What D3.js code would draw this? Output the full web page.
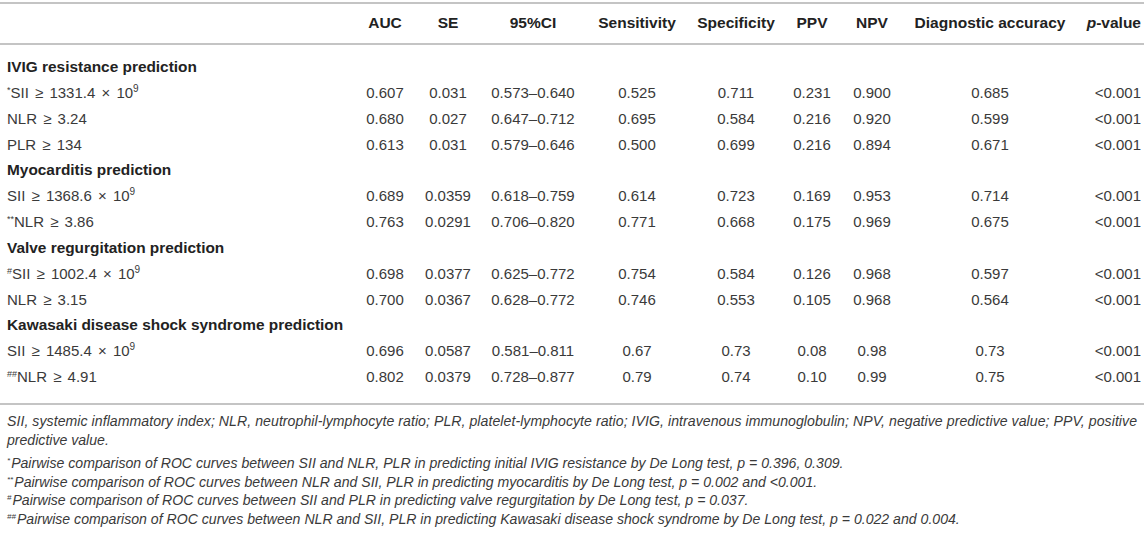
<!DOCTYPE html>
<html lang="en">
<head>
<meta charset="utf-8">
<title>ROC table</title>
<script src="https://d3js.org/d3.v7.min.js"></script>
<style>
  body { margin: 0; background: #fff; }
  svg text { font-family: "Liberation Sans", Arial, sans-serif; font-size: 15px; fill: #3a3a3a; }
  svg text.head { font-weight: bold; font-size: 15.5px; fill: #222; }
  svg text.group { font-weight: bold; font-size: 15.4px; fill: #222; }
  svg text.label { word-spacing: 2px; }
  svg text.note { font-size: 14.1px; font-style: italic; fill: #3a3a3a; }
  svg line.rule { stroke: #c4c4c4; stroke-width: 2; }
</style>
</head>
<body>
<script>
// column headers
var colKeys  = ["auc", "se", "ci", "sens", "spec", "ppv", "npv", "acc", "p"];
var colNames = ["AUC", "SE", "95%CI", "Sensitivity", "Specificity", "PPV", "NPV", "Diagnostic accuracy", "-value"];

// groups and rows
var groups    = ["IVIG resistance prediction", "Myocarditis prediction",
                 "Valve regurgitation prediction", "Kawasaki disease shock syndrome prediction"];
var groupOf   = [0, 0, 0, 1, 1, 2, 2, 3, 3];
var marks     = ["*", "", "", "", "**", "#", "", "", "##"];
var markers   = ["SII", "NLR", "PLR", "SII", "NLR", "SII", "NLR", "SII", "NLR"];
var cutoffs   = ["1331.4", "3.24", "134", "1368.6", "3.86", "1002.4", "3.15", "1485.4", "4.91"];

var auc  = ["0.607", "0.680", "0.613", "0.689", "0.763", "0.698", "0.700", "0.696", "0.802"];
var se   = ["0.031", "0.027", "0.031", "0.0359", "0.0291", "0.0377", "0.0367", "0.0587", "0.0379"];
var ci   = ["0.573–0.640", "0.647–0.712", "0.579–0.646", "0.618–0.759", "0.706–0.820",
            "0.625–0.772", "0.628–0.772", "0.581–0.811", "0.728–0.877"];
var sens = ["0.525", "0.695", "0.500", "0.614", "0.771", "0.754", "0.746", "0.67", "0.79"];
var spec = ["0.711", "0.584", "0.699", "0.723", "0.668", "0.584", "0.553", "0.73", "0.74"];
var ppv  = ["0.231", "0.216", "0.216", "0.169", "0.175", "0.126", "0.105", "0.08", "0.10"];
var npv  = ["0.900", "0.920", "0.894", "0.953", "0.969", "0.968", "0.968", "0.98", "0.99"];
var acc  = ["0.685", "0.599", "0.671", "0.714", "0.675", "0.597", "0.564", "0.73", "0.75"];
var pval = ["<0.001", "<0.001", "<0.001", "<0.001", "<0.001", "<0.001", "<0.001", "<0.001", "<0.001"];

var footLines = [
  "SII, systemic inflammatory index; NLR, neutrophil-lymphocyte ratio; PLR, platelet-lymphocyte ratio; IVIG, intravenous immunoglobulin; NPV, negative predictive value; PPV, positive",
  "predictive value."
];
var footMarks = ["*", "**", "#", "##"];
var footNotes = [
  "Pairwise comparison of ROC curves between SII and NLR, PLR in predicting initial IVIG resistance by De Long test, p = 0.396, 0.309.",
  "Pairwise comparison of ROC curves between NLR and SII, PLR in predicting myocarditis by De Long test, p = 0.002 and <0.001.",
  "Pairwise comparison of ROC curves between SII and PLR in predicting valve regurgitation by De Long test, p = 0.037.",
  "Pairwise comparison of ROC curves between NLR and SII, PLR in predicting Kawasaki disease shock syndrome by De Long test, p = 0.022 and 0.004."
];

var width = 1144, height = 533;

var cols = { auc: auc, se: se, ci: ci, sens: sens, spec: spec, ppv: ppv, npv: npv, acc: acc, p: pval };

// x centre of each column (p-value column is right aligned)
var x = d3.scaleOrdinal()
  .domain(colKeys)
  .range([385, 448, 533, 637, 736, 812, 872, 990, 1141]);

// table lines: group title, then its rows
var lines = [];
groups.forEach(function (g, gi) {
  lines.push({ type: "group", i: gi });
  groupOf.forEach(function (o, ri) { if (o === gi) lines.push({ type: "row", i: ri }); });
});

var y = d3.scaleLinear().domain([0, lines.length - 1]).range([67, 377]);

var svg = d3.select("body").append("svg")
  .attr("width", width)
  .attr("height", height);

// rules
svg.selectAll("line.rule")
  .data([3, 44, 404])
  .enter().append("line")
  .attr("class", "rule")
  .attr("x1", 0).attr("x2", width)
  .attr("y1", function (d) { return d; })
  .attr("y2", function (d) { return d; });

// header (baseline = centre + 5)
var head = svg.selectAll("text.head")
  .data(colKeys)
  .enter().append("text")
  .attr("class", "head")
  .attr("x", function (d) { return x(d); })
  .attr("y", 23 + 5)
  .attr("text-anchor", function (d) { return d === "p" ? "end" : "middle"; });

head.each(function (d, i) {
  var t = d3.select(this);
  if (d === "p") t.append("tspan").style("font-style", "italic").text("p");
  t.append("tspan").text(colNames[i]);
});

// body lines
var g = svg.selectAll("g.line")
  .data(lines)
  .enter().append("g")
  .attr("class", "line")
  .attr("transform", function (d, i) { return "translate(0," + (y(i) + 5) + ")"; });

g.filter(function (d) { return d.type === "group"; })
  .append("text")
  .attr("class", "group")
  .attr("x", 7)
  .text(function (d) { return groups[d.i]; });

var rows = g.filter(function (d) { return d.type === "row"; });

rows.append("text")
  .attr("class", "label")
  .attr("x", 7)
  .each(function (d) {
    var t = d3.select(this), r = d.i;
    if (marks[r]) {
      t.append("tspan").attr("dy", -5).style("font-size", "9px").text(marks[r]);
      t.append("tspan").attr("dy", 5).text(markers[r] + " ≥ " + cutoffs[r]);
    } else {
      t.append("tspan").text(markers[r] + " ≥ " + cutoffs[r]);
    }
    if (markers[r] === "SII") {
      t.append("tspan").text(" × 10");
      t.append("tspan").attr("dy", -6).style("font-size", "10px").text("9");
    }
  });

colKeys.forEach(function (k) {
  rows.append("text")
    .attr("x", x(k))
    .attr("text-anchor", k === "p" ? "end" : "middle")
    .text(function (d) { return cols[k][d.i]; });
});

// footnotes: the first line is justified to the full width
svg.selectAll("text.legend")
  .data(footLines)
  .enter().append("text")
  .attr("class", "note legend")
  .attr("x", 7)
  .attr("y", function (d, i) { return 421 + 5 + i * 19; })
  .each(function (d, i) {
    if (i === 0) d3.select(this).attr("textLength", width - 14).attr("lengthAdjust", "spacing");
  })
  .text(function (d) { return d; });

svg.selectAll("text.foot")
  .data(footNotes)
  .enter().append("text")
  .attr("class", "note foot")
  .attr("x", 7)
  .attr("y", function (d, i) { return 463 + 5 + i * 18.7; })
  .each(function (d, i) {
    var t = d3.select(this);
    t.append("tspan").attr("dy", -5).style("font-size", "8px").text(footMarks[i]);
    t.append("tspan").attr("dy", 5).attr("dx", 1).text(d);
  });
</script>
</body>
</html>
